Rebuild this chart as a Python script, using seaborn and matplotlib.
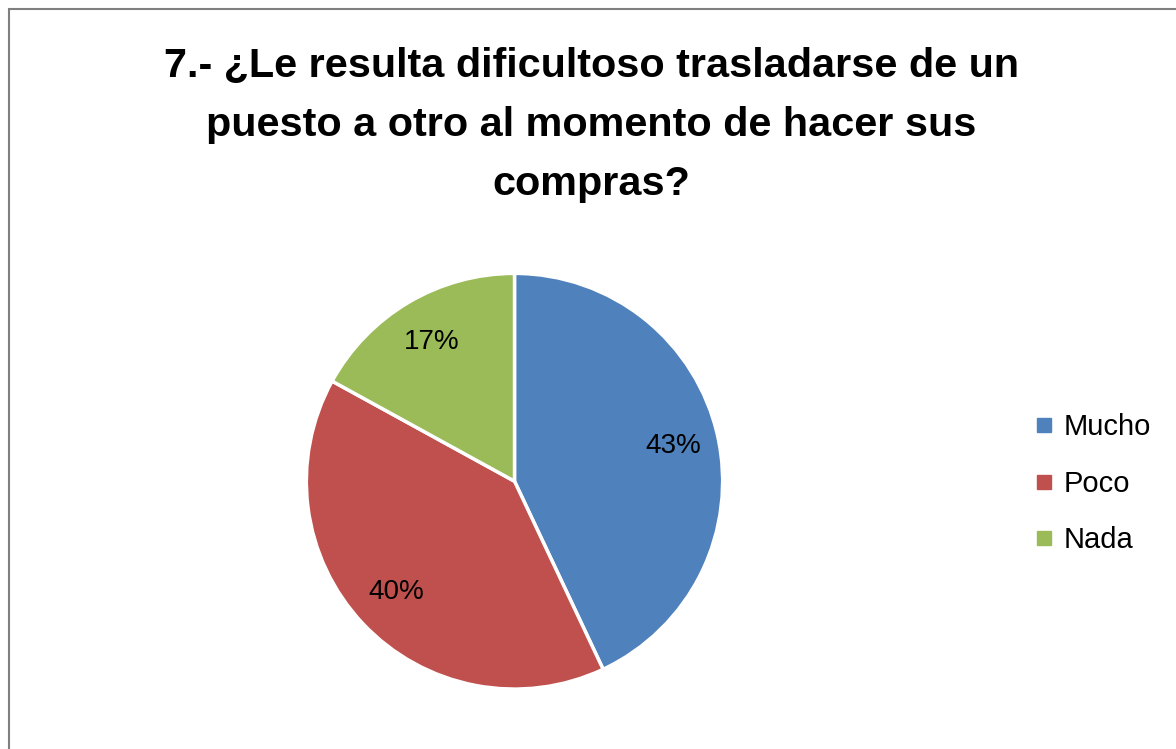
import matplotlib
matplotlib.use("Agg")
import matplotlib.pyplot as plt
import seaborn as sns
import numpy as np
from matplotlib.patches import Rectangle
from matplotlib.lines import Line2D

categories = ["Mucho", "Poco", "Nada"]
values = [43, 40, 17]
colors = ["#4F81BD", "#C0504D", "#9BBB59"]
title = "7.- ¿Le resulta dificultoso trasladarse de un\npuesto a otro al momento de hacer sus\ncompras?"

sns.set_theme(style="white")
plt.rcParams["font.family"] = ["Liberation Sans", "DejaVu Sans"]
plt.rcParams["text.color"] = "black"

fig = plt.figure(figsize=(11.76, 7.49), dpi=100)
fig.patch.set_facecolor("white")

# border frame
fig.patches.append(Rectangle((9 / 1176, -0.05), 1.2, 1 - 9 / 749 + 0.05,
                             transform=fig.transFigure, fill=False,
                             edgecolor="#7f7f7f", linewidth=1.5))

ax = fig.add_axes([0.2605, 0.0800, 0.354, 0.555])
wedges, texts = ax.pie(values, colors=colors, startangle=90, counterclock=False,
                       wedgeprops=dict(edgecolor="white", linewidth=2.5))
for w, v in zip(wedges, values):
    ang = np.deg2rad((w.theta1 + w.theta2) / 2)
    ax.text(0.78 * np.cos(ang), 0.78 * np.sin(ang), f"{v}%", ha="center",
            va="center", fontsize=20, color="black")
ax.set_aspect("auto")
ax.set_xlim(-1, 1)
ax.set_ylim(-1, 1)

fig.text(0.503, 0.937, title, ha="center", va="top", fontsize=29.8,
         fontweight="bold", linespacing=1.70, color="black")

handles = [Line2D([0], [0], marker="s", linestyle="none", markersize=10,
                  markerfacecolor=c, markeredgecolor=c) for c in colors]
fig.legend(handles, categories, loc="center left",
           bbox_to_anchor=(0.867, 0.354), frameon=False, fontsize=21,
           handletextpad=0.2, labelspacing=0.98, handlelength=0.9,
           borderaxespad=0, labelcolor="black")

fig.savefig("out.png", dpi=100, facecolor="white")
